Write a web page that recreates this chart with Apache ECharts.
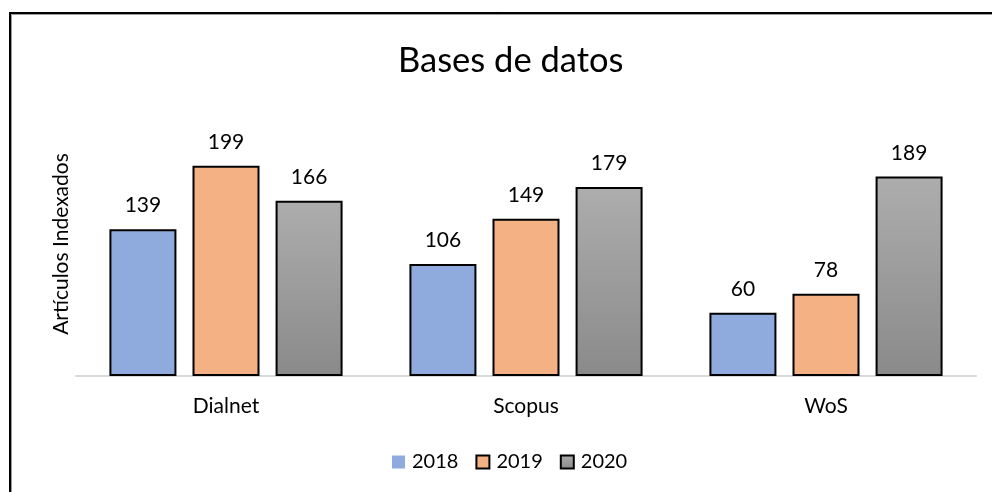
<!DOCTYPE html>
<html><head><meta charset="utf-8">
<script src="https://cdn.jsdelivr.net/npm/echarts@6/dist/echarts.min.js"></script>
<style>html,body{margin:0;padding:0;background:#fff}#c{width:992px;height:492px}</style>
</head><body><div id="c"></div>
<script>
const categories = ['Dialnet', 'Scopus', 'WoS'];
const seriesNames = ['2018', '2019', '2020'];
const values2018 = [139, 106, 60];
const values2019 = [199, 149, 78];
const values2020 = [166, 179, 189];

const FONT = 'Lato, "Open Sans", sans-serif';
const chart = echarts.init(document.getElementById('c'));
const common = {
  type: 'bar', barWidth: 67, barGap: '24%',
  label: { show: true, position: 'top', distance: 13, color: '#000', fontSize: 21, fontFamily: FONT },
};
chart.setOption({
  animation: false,
  graphic: [
    { type: 'rect', shape: { x: 10, y: 13, width: 1000, height: 500 }, style: { fill: 'none', stroke: '#000', lineWidth: 2 }, z: 100 },
    { type: 'rect', shape: { x: 11.5, y: 14.5, width: 1000, height: 500 }, style: { fill: 'none', stroke: '#999', lineWidth: 1 }, z: 100 }
  ],
  title: { text: 'Bases de datos', left: 393, top: 38, textStyle: { fontSize: 34.5, fontWeight: 'normal', color: '#000', fontFamily: FONT } },
  grid: { left: 76, right: 16, top: 112, bottom: 116 },
  legend: {
    data: [
      { name: seriesNames[0], itemStyle: { borderWidth: 0 } },
      { name: seriesNames[1] },
      { name: seriesNames[2] }
    ],
    bottom: 15, left: 387, icon: 'rect', itemWidth: 13, itemHeight: 13, itemGap: 17,
    textStyle: { fontSize: 20, color: '#000', fontFamily: FONT, padding: [0, 0, 0, 2] }
  },
  xAxis: {
    type: 'category', data: categories,
    axisLine: { lineStyle: { color: '#d9d9d9', width: 2 } },
    axisTick: { show: false },
    axisLabel: { color: '#000', fontSize: 21, margin: 20, fontFamily: FONT }
  },
  yAxis: {
    type: 'value', min: 0, max: 250,
    name: 'Artículos Indexados', nameLocation: 'middle', nameGap: 4, nameRotate: 90,
    nameTextStyle: { fontSize: 21, color: '#000', fontFamily: FONT },
    axisLine: { show: false }, axisLabel: { show: false }, axisTick: { show: false }, splitLine: { show: false }
  },
  series: [
    Object.assign({}, common, { name: seriesNames[0], data: values2018, itemStyle: { color: '#8faadc', borderColor: '#000', borderWidth: 2 } }),
    Object.assign({}, common, { name: seriesNames[1], data: values2019, itemStyle: { color: '#f4b183', borderColor: '#000', borderWidth: 2 } }),
    Object.assign({}, common, { name: seriesNames[2], data: values2020, itemStyle: {
      color: new echarts.graphic.LinearGradient(0, 0, 0, 1, [{ offset: 0, color: '#adadad' }, { offset: 1, color: '#8a8a8a' }]),
      borderColor: '#000', borderWidth: 2 } })
  ]
});
</script></body></html>
